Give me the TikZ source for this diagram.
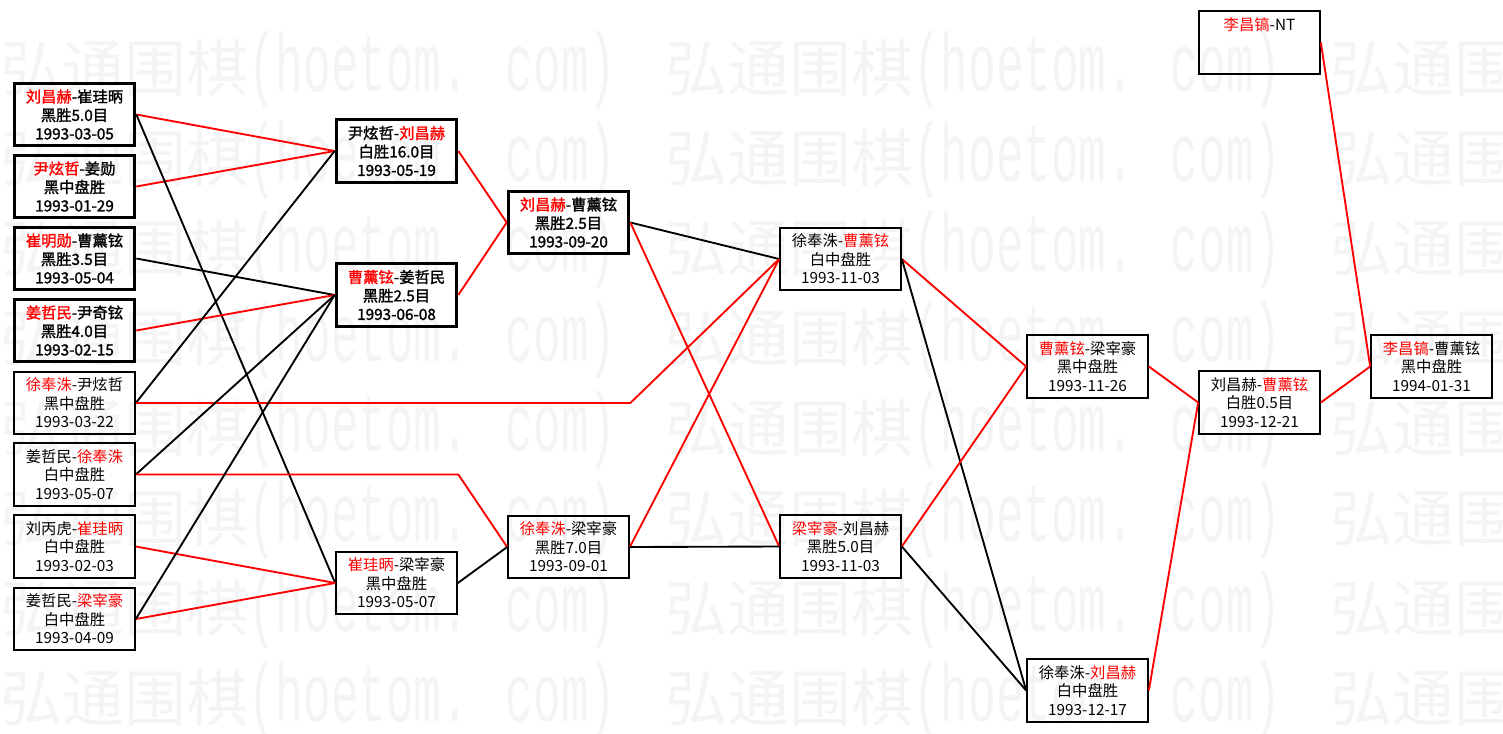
\documentclass[tikz,border=0pt]{standalone}
\usepackage{fontspec}
\setmainfont{Noto Sans CJK SC}
\newfontfamily\boldcjk{Noto Sans CJK SC}[FakeBold=1.5]
\newfontfamily\wmlatin{Liberation Mono}
\usepackage{xcolor}
\usepackage{graphicx}
\usepackage{tikz}
\usetikzlibrary{positioning}
\definecolor{winred}{RGB}{255, 0, 0}
\definecolor{wmgray}{RGB}{244, 244, 244}
\newcommand{\win}[1]{\textcolor{winred}{#1}}
\newcommand{\wmunit}{\makebox[498.75pt][l]{\fontsize{46.5pt}{50pt}\selectfont 弘通围棋{\wmlatin\fontsize{34.5pt}{40pt}\selectfont\scalebox{1}[1.8]{(hoetom. com)}}}}

\begin{document}
\begin{tikzpicture}[
  x=0.75pt, y=-0.75pt,
  game/.style={rectangle, draw, line width=1.5pt, minimum width=90.5pt, minimum height=47pt,
    inner sep=0pt, align=center, font=\fontsize{11.5pt}{13.9pt}\selectfont},
  topgame/.style={game, line width=2.25pt, font=\boldcjk\fontsize{11.5pt}{13.9pt}\selectfont},
  wonline/.style={draw=winred, line width=1.4pt},
  lostline/.style={draw=black, line width=1.4pt}
]
\useasboundingbox (0,0) rectangle (1503,733);

% Watermark
\begin{scope}
\clip (0,0) rectangle (1503,733);
\foreach \y in {91,181,...,721}
  \node[anchor=base west, inner sep=0pt, text=wmgray] (wm\y) at (0,\y) {\wmunit\wmunit\wmunit};
\end{scope}

% Round 1
\node[topgame] (r1a) at (74.5,114.5) {\win{刘昌赫}-崔珪昞\\黑胜5.0目\\1993-03-05};
\node[topgame] (r1b) at (74.5,186.5) {\win{尹炫哲}-姜勋\\黑中盘胜\\1993-01-29};
\node[topgame] (r1c) at (74.5,258.5) {\win{崔明勋}-曹薰铉\\黑胜3.5目\\1993-05-04};
\node[topgame] (r1d) at (74.5,330.5) {\win{姜哲民}-尹奇铉\\黑胜4.0目\\1993-02-15};
\node[game] (r1e) at (74.5,403) {\win{徐奉洙}-尹炫哲\\黑中盘胜\\1993-03-22};
\node[game] (r1f) at (74.5,474.5) {姜哲民-\win{徐奉洙}\\白中盘胜\\1993-05-07};
\node[game] (r1g) at (74.5,546.5) {刘丙虎-\win{崔珪昞}\\白中盘胜\\1993-02-03};
\node[game] (r1h) at (74.5,619) {姜哲民-\win{梁宰豪}\\白中盘胜\\1993-04-09};

% Round 2
\node[topgame] (r2a) at (396.5,151) {尹炫哲-\win{刘昌赫}\\白胜16.0目\\1993-05-19};
\node[topgame] (r2b) at (396.5,295) {\win{曹薰铉}-姜哲民\\黑胜2.5目\\1993-06-08};
\node[game] (r2c) at (396.5,583) {\win{崔珪昞}-梁宰豪\\黑中盘胜\\1993-05-07};

% Round 3
\node[topgame] (r3a) at (568.5,222.5) {\win{刘昌赫}-曹薰铉\\黑胜2.5目\\1993-09-20};
\node[game] (r3b) at (568.5,547) {\win{徐奉洙}-梁宰豪\\黑胜7.0目\\1993-09-01};

% Round 4
\node[game] (r4a) at (840.5,259) {徐奉洙-\win{曹薰铉}\\白中盘胜\\1993-11-03};
\node[game] (r4b) at (840.5,546.5) {\win{梁宰豪}-刘昌赫\\黑胜5.0目\\1993-11-03};

% Round 5
\node[game] (r5a) at (1087.5,366.5) {\win{曹薰铉}-梁宰豪\\黑中盘胜\\1993-11-26};
\node[game] (r5b) at (1087.5,690.5) {徐奉洙-\win{刘昌赫}\\白中盘胜\\1993-12-17};

% Round 6 and final
\node[game] (r6) at (1259.5,402.5) {刘昌赫-\win{曹薰铉}\\白胜0.5目\\1993-12-21};
\node[game] (nt) at (1259.5,42.5) {\win{李昌镐}-NT\\\phantom{0}\\\phantom{0}};
\node[game] (final) at (1431.5,366.5) {\win{李昌镐}-曹薰铉\\黑中盘胜\\1994-01-31};

% Connectors
\draw[wonline] (r1a.east) -- (r2a.west);
\draw[wonline] (r1b.east) -- (r2a.west);
\draw[lostline] (r1a.east) -- (r2c.west);
\draw[lostline] (r1c.east) -- (r2b.west);
\draw[wonline] (r1d.east) -- (r2b.west);
\draw[lostline] (r1e.east) -- (r2a.west);
\draw[wonline] (r1e.east) -- (r1e.east -| r3a.east) -- (r4a.west);
\draw[lostline] (r1f.east) -- (r2b.west);
\draw[wonline] (r1f.east) -- (r1f.east -| r2a.east) -- (r3b.west);
\draw[wonline] (r1g.east) -- (r2c.west);
\draw[wonline] (r1h.east) -- (r2c.west);
\draw[lostline] (r1h.east) -- (r2b.west);

\draw[wonline] (r2a.east) -- (r3a.west);
\draw[wonline] (r2b.east) -- (r3a.west);
\draw[lostline] (r2c.east) -- (r3b.west);

\draw[lostline] (r3a.east) -- (r4a.west);
\draw[wonline] (r3a.east) -- (r4b.west);
\draw[wonline] (r3b.east) -- (r4a.west);
\draw[lostline] (r3b.east) -- (r4b.west);

\draw[wonline] (r4a.east) -- (r5a.west);
\draw[lostline] (r4a.east) -- (r5b.west);
\draw[wonline] (r4b.east) -- (r5a.west);
\draw[lostline] (r4b.east) -- (r5b.west);

\draw[wonline] (r5a.east) -- (r6.west);
\draw[wonline] (r5b.east) -- (r6.west);
\draw[wonline] (r6.east) -- (final.west);
\draw[wonline] (nt.east) -- (final.west);

\end{tikzpicture}
\end{document}
